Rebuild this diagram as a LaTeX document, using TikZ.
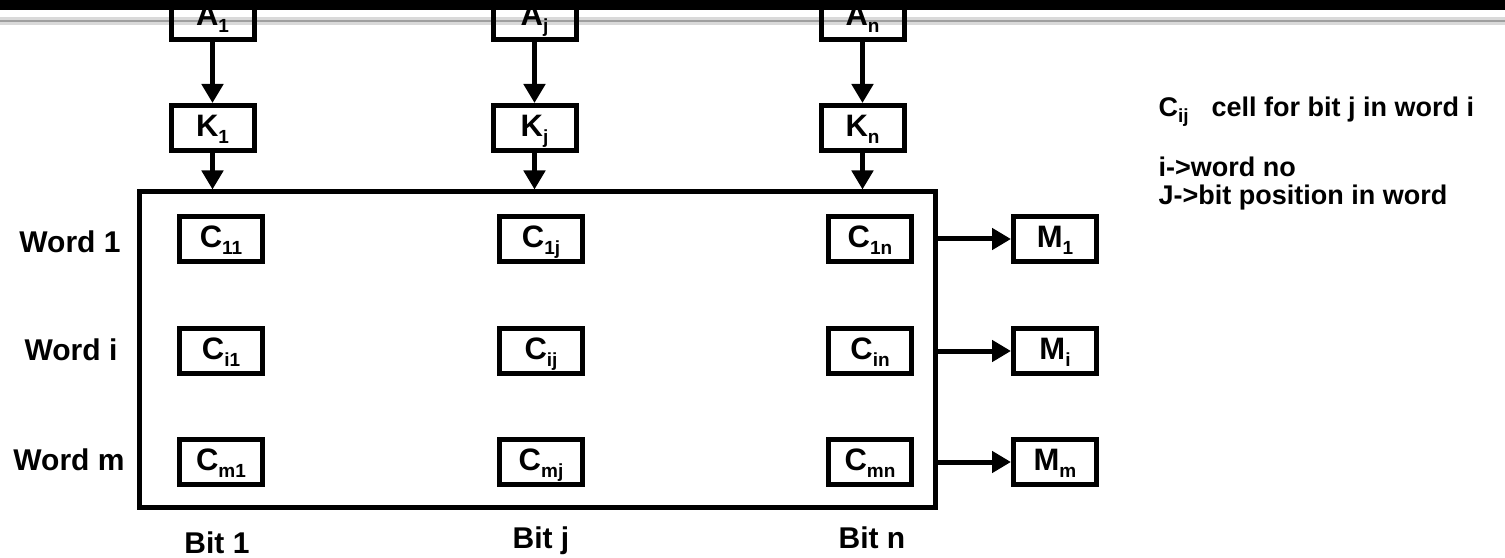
\documentclass[tikz,border=0pt]{standalone}
\usepackage{fontspec}
\setmainfont{Liberation Sans}
\usetikzlibrary{arrows.meta}
\newcommand\lowsub[1]{\raisebox{-0.22em}{\fontsize{19bp}{19bp}\selectfont #1}}
\begin{document}
\begin{tikzpicture}[x=1bp,y=-1bp,
  every node/.style={font=\fontsize{30bp}{34bp}\selectfont\bfseries},
  cellbox/.style={draw, line width=5bp, minimum width=83bp, minimum height=45bp, inner sep=0pt,
    text height=17bp, text depth=0bp, font=\fontsize{31bp}{34bp}\selectfont\bfseries},
  membox/.style={draw, line width=5bp, minimum width=795.5bp, minimum height=315bp, inner sep=0pt},
  conn/.style={line width=5bp, -{Triangle[width=21bp,length=19bp]}},
  lbl/.style={anchor=base},
  legend/.style={anchor=base west, font=\fontsize{27bp}{30bp}\selectfont\bfseries}]
\useasboundingbox (0,0) rectangle (1505,558);
% header rule
\fill[gray!30] (0,17) rectangle (1505,25);
\draw[gray!75, line width=2.5bp] (0,21) -- (1505,21);
% input boxes
\node[cellbox] (A1) at (212.5,17) {A\lowsub{1}};
\node[cellbox] (Aj) at (534.5,17) {A\lowsub{j}};
\node[cellbox] (An) at (862.5,17) {A\lowsub{n}};
\node[cellbox] (K1) at (212.5,128) {K\lowsub{1}};
\node[cellbox] (Kj) at (534.5,128) {K\lowsub{j}};
\node[cellbox] (Kn) at (862.5,128) {K\lowsub{n}};
% memory array
\node[membox] (mem) at (537.25,349.5) {};
\node[cellbox] (c11) at (221,239) {C\lowsub{11}};
\node[cellbox] (c1j) at (541,239) {C\lowsub{1j}};
\node[cellbox] (c1n) at (870,239) {C\lowsub{1n}};
\node[cellbox] (ci1) at (221,351) {C\lowsub{i1}};
\node[cellbox] (cij) at (541,351) {C\lowsub{ij}};
\node[cellbox] (cin) at (870,351) {C\lowsub{in}};
\node[cellbox] (cm1) at (221,462) {C\lowsub{m1}};
\node[cellbox] (cmj) at (541,462) {C\lowsub{mj}};
\node[cellbox] (cmn) at (870,462) {C\lowsub{mn}};
% match outputs
\node[cellbox] (M1) at (1055,239) {M\lowsub{1}};
\node[cellbox] (Mi) at (1055,351) {M\lowsub{i}};
\node[cellbox] (Mm) at (1055,462) {M\lowsub{m}};
% connectors
\draw[conn] (A1) -- (K1);
\draw[conn] (Aj) -- (Kj);
\draw[conn] (An) -- (Kn);
\draw[conn] (K1) -- (K1 |- mem.north);
\draw[conn] (Kj) -- (Kj |- mem.north);
\draw[conn] (Kn) -- (Kn |- mem.north);
\draw[conn] (M1 -| mem.east) -- (M1);
\draw[conn] (Mi -| mem.east) -- (Mi);
\draw[conn] (Mm -| mem.east) -- (Mm);
% labels
\node[lbl] (w1) at (70,253) {Word 1};
\node[lbl] (wi) at (71,360) {Word i};
\node[lbl] (wm) at (69,470) {Word m};
\node[lbl] (b1) at (217,553) {Bit 1};
\node[lbl] (bj) at (541,548) {Bit j};
\node[lbl] (bn) at (872,548) {Bit n};
% legend
\node[legend] (lgc) at (1155,117) {C\lowsub{ij}};
\node[legend] (lgt) at (1208,117) {cell for bit j in word i};
\node[legend] (lg2) at (1155,177) {i->word no};
\node[legend] (lg3) at (1155,205) {J->bit position in word};
% top bar
\fill[black] (0,0) rectangle (1505,10);
\end{tikzpicture}
\end{document}
